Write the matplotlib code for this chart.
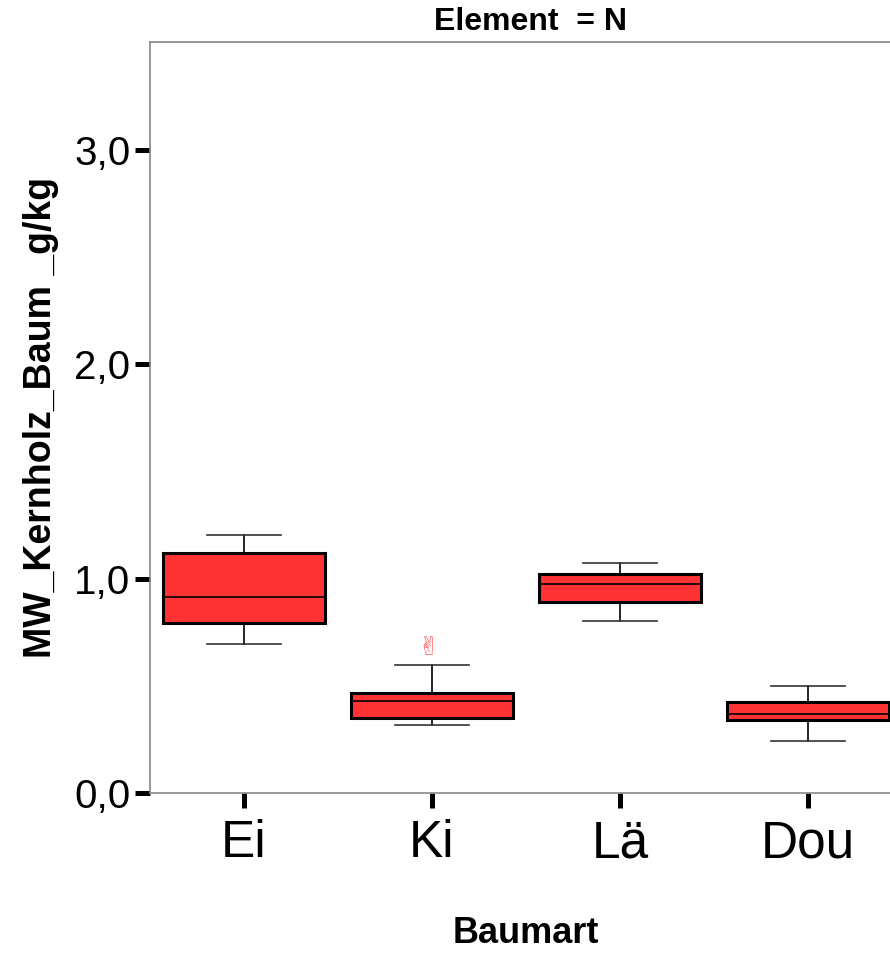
import numpy as np
import matplotlib
matplotlib.use("Agg")
import matplotlib.pyplot as plt

plt.rcParams['font.family'] = ['Liberation Sans', 'DejaVu Sans']

# box statistics (g/kg)
baumart = ['Ei', 'Ki', 'Lä', 'Dou']
q1 = [0.792, 0.351, 0.890, 0.339]
median = [0.913, 0.429, 0.974, 0.367]
q3 = [1.121, 0.467, 1.022, 0.426]
whislo = [0.694, 0.316, 0.804, 0.244]
whishi = [1.205, 0.599, 1.072, 0.501]
outliers = [[], [0.675], [], []]

stats = [dict(label=b, q1=a, med=m, q3=c, whislo=lo, whishi=hi, fliers=[])
         for b, a, m, c, lo, hi in zip(baumart, q1, median, q3, whislo, whishi)]

fig = plt.figure(figsize=(8.9, 9.55), dpi=100)
ax = fig.add_axes([150/890, (955-793)/955, 752/890, 751/955])

pos = np.arange(len(baumart))
ax.bxp(stats, positions=pos, widths=0.867, patch_artist=True, showfliers=False,
       boxprops=dict(facecolor='#ff3333', edgecolor='black', linewidth=2.2),
       medianprops=dict(color='black', linewidth=1.2),
       whiskerprops=dict(color='black', linewidth=1.2),
       capprops=dict(color='#333333', linewidth=1.2), capwidths=0.39)

# outlier drawn with the SPSS-like hand symbol
for p, vals in zip(pos, outliers):
    for v in vals:
        ax.text(p - 0.02, v, '✌', family='DejaVu Sans', fontsize=19,
                color='#ff6666', ha='center', va='center')

ax.set_xlim(-0.5, 3.5)
ax.set_ylim(0, 3.504)
ax.set_yticks([0, 1, 2, 3])
ax.set_yticklabels(['0,0', '1,0', '2,0', '3,0'], fontsize=29)
ax.set_xticks(pos)
ax.set_xticklabels(baumart, fontsize=37)
ax.tick_params(axis='both', direction='out', length=11, width=3.6, color='black')
ax.tick_params(axis='y', pad=3)
ax.tick_params(axis='x', pad=8)

for s in ['left', 'bottom', 'top']:
    ax.spines[s].set_color('#888888')
    ax.spines[s].set_linewidth(1.2)
ax.spines['right'].set_visible(False)

ax.set_ylabel('MW_Kernholz_Baum _g/kg', fontsize=27, fontweight='bold', labelpad=11)
ax.set_xlabel('Baumart', fontsize=26, fontweight='bold', labelpad=34)
fig.text(530/890, 1 - 22/955, 'Element  = N', fontsize=23, fontweight='bold',
         ha='center', va='center')

fig.savefig('out.png', dpi=100)
